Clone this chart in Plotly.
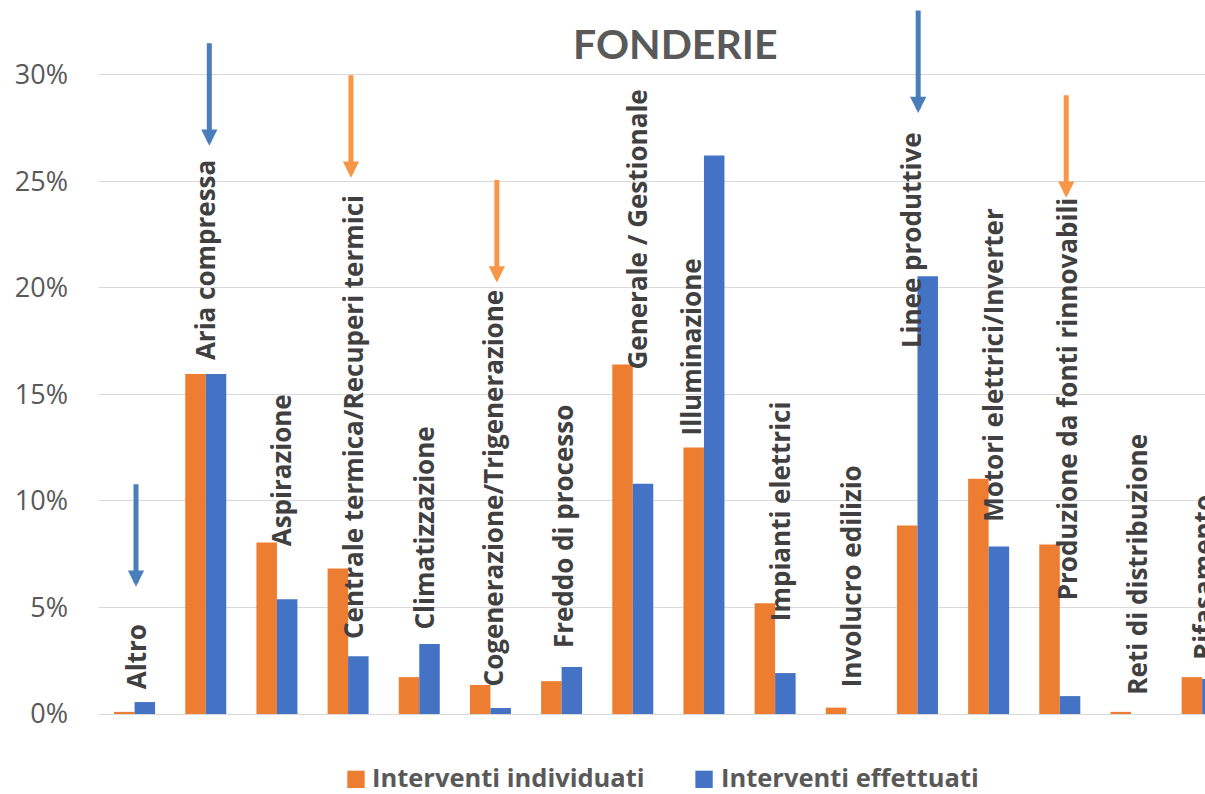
import plotly.graph_objects as go

categories = ["Altro", "Aria compressa", "Aspirazione", "Centrale termica/Recuperi termici",
              "Climatizzazione", "Cogenerazione/Trigenerazione", "Freddo di processo",
              "Generale / Gestionale", "Illuminazione", "Impianti elettrici",
              "Involucro edilizio", "Linee produttive", "Motori elettrici/Inverter",
              "Produzione da fonti rinnovabili", "Reti di distribuzione", "Rifasamento"]
individuati = [0.1, 15.95, 8.05, 6.83, 1.73, 1.36, 1.54, 16.4, 12.5, 5.2, 0.3, 8.84, 11.04, 7.95, 0.1, 1.73]
effettuati = [0.56, 15.95, 5.38, 2.71, 3.28, 0.28, 2.2, 10.8, 26.2, 1.92, 0.0, 20.54, 7.86, 0.84, 0.0, 1.64]
series_names = ["Interventi individuati", "Interventi effettuati"]
tick_values = [0, 5, 10, 15, 20, 25, 30]
tick_labels = ["0%", "5%", "10%", "15%", "20%", "25%", "30%"]

# layout: label bottom positions (in % units) and horizontal offsets (category units)
label_bottom = [1.05, 16.5, 7.8, 3.44, 3.86, 1.19, 2.99, 16.07, 12.96, 4.28, 1.14, 17.09, 8.93, 5.26, 0.81, 2.45]
label_dx = [0.02, 0.0, 0.05, 0.06, 0.07, 0.04, 0.01, 0.06, -0.18, 0.06, 0.06, -0.1, 0.05, 0.1, 0.09, 0.02]

# arrows: (category position, tip value, colour)
arrows = [(0.02, 5.97, "#4A7EBB"), (1.05, 26.66, "#4A7EBB"), (11.01, 28.2, "#4A7EBB"),
          (3.04, 25.16, "#F79646"), (5.09, 20.24, "#F79646"), (13.09, 24.22, "#F79646")]

ORANGE = "#ED7D31"
BLUE = "#4472C4"
colors = [ORANGE, BLUE]

x = list(range(len(categories)))
fig = go.Figure()
fig.add_trace(go.Bar(x=x, y=individuati, name=series_names[0], showlegend=False,
                     marker=dict(color=ORANGE, line=dict(width=0))))
fig.add_trace(go.Bar(x=x, y=effettuati, name=series_names[1], showlegend=False,
                     marker=dict(color=BLUE, line=dict(width=0))))

annotations = []
for i, c in enumerate(categories):
    annotations.append(dict(x=i + label_dx[i], y=label_bottom[i], xref="x", yref="y", text=c,
                            textangle=-90, showarrow=False, xanchor="center", yanchor="bottom",
                            font=dict(family="Open Sans", size=26, color="#404040", weight="bold")))
for (ax_, tip, col) in arrows:
    annotations.append(dict(x=ax_, y=tip, xref="x", yref="y", text="", showarrow=True,
                            ax=0, ay=-104, arrowhead=2, arrowsize=0.65, arrowwidth=5,
                            arrowcolor=col, standoff=0))
annotations.append(dict(x=0.5208, y=0.953, xref="paper", yref="paper", text="FONDERIE",
                        showarrow=False, xanchor="center", yanchor="middle",
                        font=dict(family="Lato", size=41, color="#595959", weight="bold")))

# legend drawn as shapes + text (paper coords)
legend_sq_x = [(0.2245, 0.2402), (0.5392, 0.5549)]
legend_txt_x = [0.2459, 0.5612]
shapes = []
for k in range(2):
    shapes.append(dict(type="rect", xref="paper", yref="paper", x0=legend_sq_x[k][0], x1=legend_sq_x[k][1],
                       y0=-0.1051, y1=-0.0805, fillcolor=colors[k], line=dict(width=0)))
    annotations.append(dict(x=legend_txt_x[k], y=-0.0895, xref="paper", yref="paper", text=series_names[k],
                            showarrow=False, xanchor="left", yanchor="middle", borderpad=0,
                            font=dict(family="Open Sans", size=25.5, color="#595959", weight="bold")))

fig.update_layout(
    width=1205, height=794,
    margin=dict(l=99, r=0, t=10, b=80),
    plot_bgcolor="white", paper_bgcolor="white",
    barmode="group", bargap=0.424, bargroupgap=0,
    xaxis=dict(range=[-0.5, 15.04], showticklabels=False, showgrid=False, zeroline=False,
               showline=False, ticks="", automargin=False),
    yaxis=dict(range=[0, 33.03], tickmode="array", tickvals=tick_values, ticktext=tick_labels,
               showgrid=True, gridcolor="#D9D9D9", gridwidth=1.3, zeroline=True,
               zerolinecolor="#D9D9D9", zerolinewidth=1.3, showline=False, ticks="",
               ticklabelstandoff=30, automargin=False,
               tickfont=dict(family="Open Sans", size=27, color="#595959")),
    annotations=annotations,
    shapes=shapes,
    showlegend=False,
)
fig.write_html("out.html", config={"displayModeBar": False},
               post_script="document.body.style.margin='0';document.body.style.overflow='hidden';")
